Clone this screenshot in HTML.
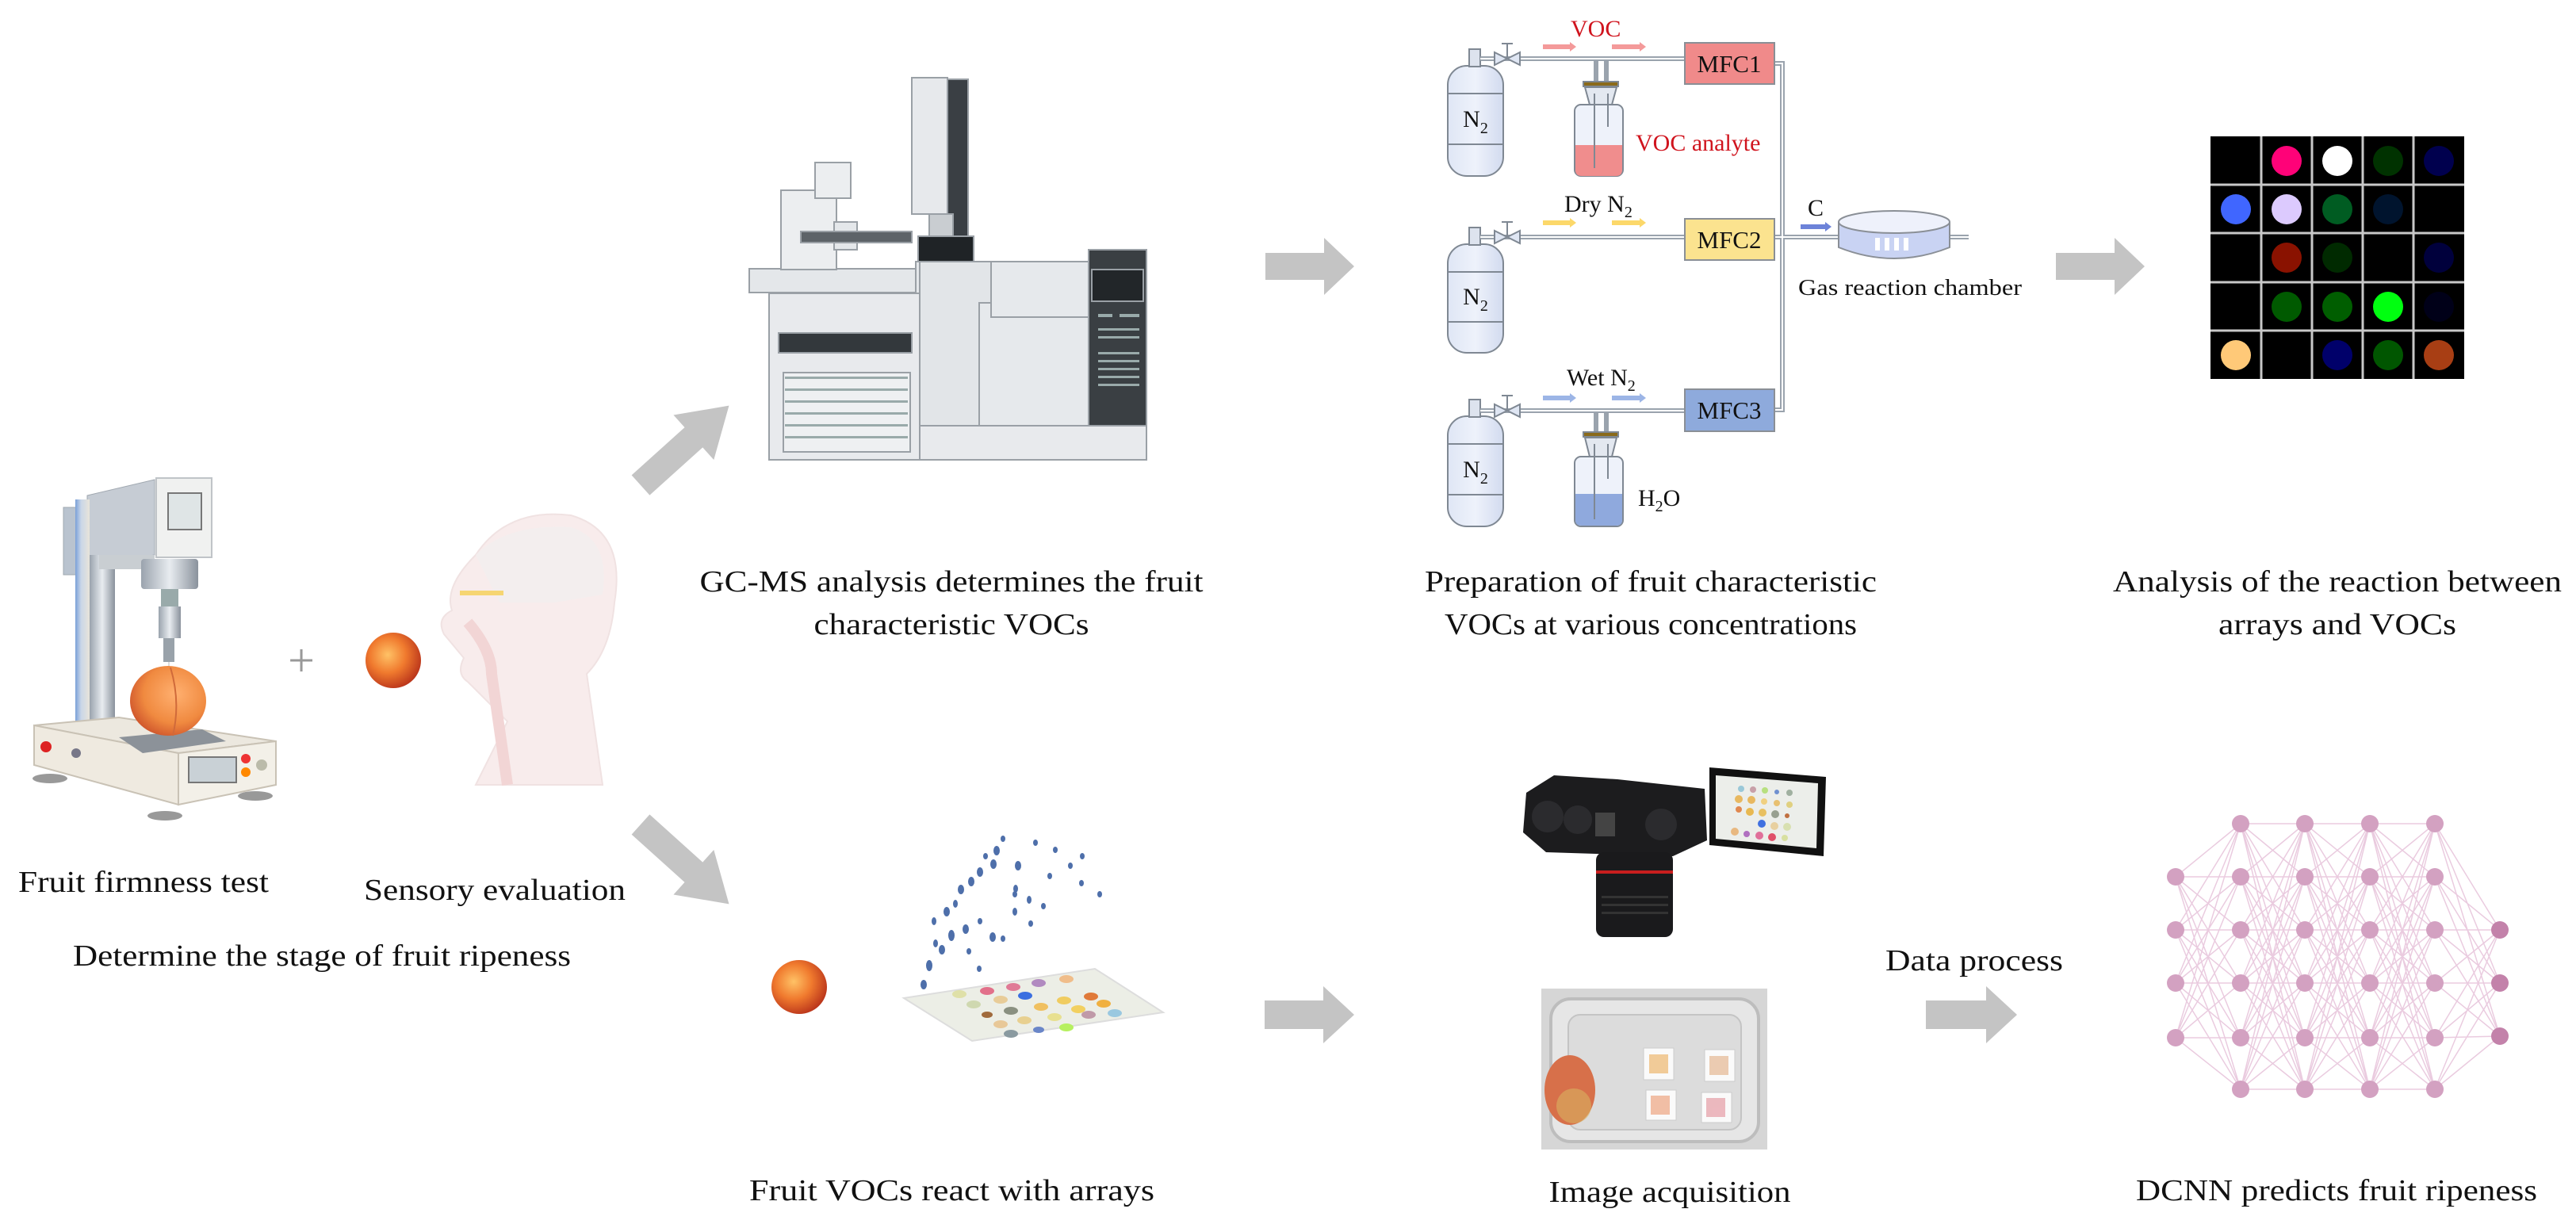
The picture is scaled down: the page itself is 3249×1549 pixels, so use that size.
<!DOCTYPE html>
<html><head><meta charset="utf-8"><style>
html,body{margin:0;padding:0;background:#fff}
svg{display:block}
text{font-family:"Liberation Serif",serif;fill:#111}
</style></head><body>
<svg width="3249" height="1549" viewBox="0 0 3249 1549" xmlns="http://www.w3.org/2000/svg" font-family="Liberation Serif, serif">
<defs>
<radialGradient id="peach" cx="40%" cy="40%" r="65%"><stop offset="0" stop-color="#ffc266"/><stop offset=".5" stop-color="#f07a2e"/><stop offset="1" stop-color="#b8321a"/></radialGradient>
<radialGradient id="peach2" cx="60%" cy="40%" r="70%"><stop offset="0" stop-color="#ffb070"/><stop offset=".6" stop-color="#f08a40"/><stop offset="1" stop-color="#c84a28"/></radialGradient>
<linearGradient id="tank" x1="0" x2="1"><stop offset="0" stop-color="#dfe6f5"/><stop offset=".5" stop-color="#eef2fb"/><stop offset="1" stop-color="#d2dbef"/></linearGradient>
<linearGradient id="metal" x1="0" x2="1"><stop offset="0" stop-color="#9aa3ad"/><stop offset=".5" stop-color="#e8ecf0"/><stop offset="1" stop-color="#8a929c"/></linearGradient>
<linearGradient id="col" x1="0" x2="1"><stop offset="0" stop-color="#7aa0d8"/><stop offset=".4" stop-color="#c9d6e8"/><stop offset="1" stop-color="#e8e4da"/></linearGradient>
</defs>

<!-- ===== Firmness tester ===== -->
<g>
<rect x="80" y="640" width="60" height="85" fill="#b9c3cf" stroke="#a0a8b0" stroke-width="1"/>
<path d="M110 625 L195 605 L195 700 L110 712 Z" fill="#c6ccd4" stroke="#a0a8b0" stroke-width="1"/>
<rect x="197" y="603" width="70" height="100" fill="#f0f1f0" stroke="#c0c4c8" stroke-width="2"/>
<rect x="212" y="622" width="42" height="46" fill="#dfe5e6" stroke="#777" stroke-width="2"/>
<rect x="95" y="630" width="18" height="345" fill="url(#col)"/>
<rect x="113" y="700" width="32" height="270" fill="url(#metal)"/>
<rect x="125" y="700" width="70" height="18" fill="#c9ced2"/>
<rect x="178" y="705" width="72" height="38" rx="4" fill="url(#metal)"/>
<rect x="203" y="743" width="22" height="22" fill="#9aa"/>
<rect x="200" y="765" width="28" height="40" fill="url(#metal)"/>
<rect x="206" y="805" width="14" height="30" fill="#99a2aa"/>
<rect x="212" y="835" width="2" height="30" fill="#ddd"/>
<polygon points="43,915 150,905 348,935 225,950" fill="#ece8df" stroke="#c9c2b5" stroke-width="2"/>
<polygon points="43,915 225,950 225,1015 43,965" fill="#efeae0" stroke="#c9c2b5" stroke-width="2"/>
<polygon points="225,950 348,935 348,990 225,1015" fill="#f3f0e8" stroke="#c9c2b5" stroke-width="2"/>
<rect x="238" y="955" width="60" height="32" fill="#c9d1d6" stroke="#777" stroke-width="2"/>
<circle cx="58" cy="942" r="7" fill="#d22"/><circle cx="96" cy="950" r="6" fill="#778"/>
<circle cx="310" cy="957" r="6" fill="#e33"/><circle cx="310" cy="974" r="6" fill="#f80"/><circle cx="330" cy="965" r="7" fill="#bba"/>
<ellipse cx="63" cy="982" rx="22" ry="6" fill="#999"/><ellipse cx="208" cy="1029" rx="22" ry="6" fill="#999"/><ellipse cx="322" cy="1004" rx="22" ry="6" fill="#999"/>
<polygon points="150,930 255,920 285,935 180,950" fill="#8c9299"/>
<ellipse cx="212" cy="884" rx="48" ry="44" fill="url(#peach2)"/>
<path d="M215 842 Q228 885 218 928" stroke="#d06a3a" stroke-width="2" fill="none"/>
</g>
<text x="380" y="853" font-size="60" text-anchor="middle" style="fill:#999">+</text>
<ellipse cx="496" cy="833" rx="35" ry="35" fill="url(#peach)"/>
<!-- head silhouette -->
<g opacity="0.55">
<path d="M600 700 Q640 640 720 650 Q790 670 775 760 Q770 820 740 850 L760 990 L600 990 L640 910 Q610 880 590 860 Q575 850 585 830 L560 800 Q550 780 570 770 Q560 740 600 700 Z" fill="#f3dede" stroke="#e5cccc" stroke-width="2"/>
<path d="M600 700 Q640 660 720 665 Q770 680 760 750 L700 760 L630 760 Z" fill="#ebe1e1"/>
<rect x="580" y="745" width="55" height="6" fill="#f0b400"/>
<path d="M590 785 Q620 820 620 850 L640 990" stroke="#e8b3b3" stroke-width="14" fill="none"/>
</g>

<text x="23" y="1125" font-size="38" textLength="316" lengthAdjust="spacingAndGlyphs">Fruit firmness test</text>
<text x="459" y="1135" font-size="38" textLength="330" lengthAdjust="spacingAndGlyphs">Sensory evaluation</text>
<text x="92" y="1218" font-size="38" textLength="628" lengthAdjust="spacingAndGlyphs">Determine the stage of fruit ripeness</text>

<!-- ===== Arrows ===== -->
<g fill="#c4c4c4">
<polygon transform="translate(808,612) rotate(-42)" points="0,-17 90,-17 90,-38 150,0 90,38 90,17 0,17"/>
<polygon transform="translate(808,1040) rotate(42)" points="0,-17 90,-17 90,-38 150,0 90,38 90,17 0,17"/>
<polygon points="1596,319 1670,319 1670,300 1708,336 1670,372 1670,353 1596,353"/>
<polygon points="2593,319 2667,319 2667,300 2705,336 2667,372 2667,353 2593,353"/>
<polygon points="1595,1262 1669,1262 1669,1244 1708,1280 1669,1316 1669,1298 1595,1298"/>
<polygon points="2429,1262 2505,1262 2505,1244 2544,1280 2505,1316 2505,1298 2429,1298"/>
</g>

<!-- ===== GC-MS ===== -->
<g stroke="#9aa0a6" stroke-width="2">
<rect x="945" y="339" width="210" height="30" fill="#e4e7ea"/>
<rect x="985" y="240" width="70" height="100" fill="#eceef0"/>
<rect x="1028" y="205" width="45" height="45" fill="#eceef0"/>
<rect x="1052" y="280" width="29" height="35" fill="#e4e7ea"/>
<rect x="1010" y="292" width="140" height="14" fill="#5d6368"/>
<rect x="1150" y="98" width="45" height="172" fill="#e7e9ec"/>
<rect x="1195" y="100" width="26" height="200" fill="#3a3f44"/>
<rect x="1172" y="270" width="30" height="50" fill="#c9cdd1"/>
<rect x="1158" y="298" width="70" height="35" fill="#1f2326"/>
<rect x="1155" y="330" width="80" height="40" fill="#e4e7ea"/>
<rect x="970" y="370" width="190" height="210" fill="#e8eaed"/>
<rect x="982" y="420" width="168" height="25" fill="#33383c"/>
<rect x="988" y="470" width="160" height="100" fill="#eef0f2"/>
<rect x="1160" y="330" width="90" height="250" fill="#e2e5e8"/>
<rect x="1235" y="382" width="140" height="198" fill="#e6e9ec"/>
<rect x="1250" y="330" width="124" height="70" fill="#e6e9ec"/>
<rect x="1373" y="315" width="73" height="222" fill="#3a3f43"/>
<rect x="1377" y="340" width="65" height="40" fill="#222629"/>
<rect x="1160" y="537" width="286" height="43" fill="#e8eaed"/>
</g>
<g fill="#9aa">
<rect x="990" y="475" width="155" height="3"/><rect x="990" y="490" width="155" height="3"/><rect x="990" y="505" width="155" height="3"/><rect x="990" y="520" width="155" height="3"/><rect x="990" y="535" width="155" height="3"/><rect x="990" y="550" width="155" height="3"/>
<rect x="1385" y="396" width="18" height="4"/><rect x="1412" y="396" width="25" height="4"/>
<rect x="1385" y="414" width="52" height="3"/><rect x="1385" y="424" width="52" height="3"/>
<rect x="1385" y="444" width="52" height="3"/><rect x="1385" y="454" width="52" height="3"/><rect x="1385" y="464" width="52" height="3"/><rect x="1385" y="474" width="52" height="3"/><rect x="1385" y="484" width="52" height="3"/>
</g>
<text x="1200" y="746" font-size="38" text-anchor="middle" textLength="635" lengthAdjust="spacingAndGlyphs">GC-MS analysis determines the fruit</text>
<text x="1200" y="800" font-size="38" text-anchor="middle" textLength="347" lengthAdjust="spacingAndGlyphs">characteristic VOCs</text>

<!-- ===== Gas setup ===== -->
<g stroke="#7f8893" stroke-width="2">
<rect x="1826" y="83" width="70" height="139" rx="24" fill="url(#tank)"/>
<line x1="1826" y1="118" x2="1896" y2="118"/><line x1="1826" y1="182" x2="1896" y2="182"/>
<rect x="1826" y="308" width="70" height="137" rx="24" fill="url(#tank)"/>
<line x1="1826" y1="343" x2="1896" y2="343"/><line x1="1826" y1="406" x2="1896" y2="406"/>
<rect x="1826" y="525" width="70" height="139" rx="24" fill="url(#tank)"/>
<line x1="1826" y1="560" x2="1896" y2="560"/><line x1="1826" y1="624" x2="1896" y2="624"/>
<rect x="1853" y="62" width="14" height="22" fill="#dde3ee"/><rect x="1853" y="287" width="14" height="22" fill="#dde3ee"/><rect x="1853" y="504" width="14" height="22" fill="#dde3ee"/>
</g>
<g font-size="30" text-anchor="middle">
<text x="1861" y="160">N<tspan font-size="20" dy="8">2</tspan></text>
<text x="1861" y="384">N<tspan font-size="20" dy="8">2</tspan></text>
<text x="1861" y="602">N<tspan font-size="20" dy="8">2</tspan></text>
</g>
<g fill="none" stroke="#9aa3ad" stroke-width="6">
<path d="M1867 74 H2125"/><path d="M1867 299 H2125"/><path d="M1867 518 H2125"/>
<path d="M2013 74 V110"/><path d="M2026 74 V110"/>
<path d="M2013 518 V550"/><path d="M2026 518 V550"/>
<path d="M2238 80 H2248 V517 H2238"/><path d="M2238 299 H2483"/>
</g>
<g fill="none" stroke="#fff" stroke-width="2">
<path d="M1867 74 H2125"/><path d="M1867 299 H2125"/><path d="M1867 518 H2125"/><path d="M2238 80 H2248 V517 H2238"/><path d="M2238 299 H2483"/>
</g>
<g fill="#dfe6f3" stroke="#7f8893" stroke-width="2">
<polygon points="1885,66 1901,74 1885,82"/><polygon points="1917,66 1901,74 1917,82"/><line x1="1901" y1="74" x2="1901" y2="55"/><line x1="1894" y1="55" x2="1908" y2="55"/>
<polygon points="1885,291 1901,299 1885,307"/><polygon points="1917,291 1901,299 1917,307"/><line x1="1901" y1="299" x2="1901" y2="280"/><line x1="1894" y1="280" x2="1908" y2="280"/>
<polygon points="1885,510 1901,518 1885,526"/><polygon points="1917,510 1901,518 1917,526"/><line x1="1901" y1="518" x2="1901" y2="499"/><line x1="1894" y1="499" x2="1908" y2="499"/>
</g>
<g stroke="#7f8893" stroke-width="2">
<rect x="1997" y="103" width="44" height="6" fill="#8a6a1a"/>
<path d="M1999 110 H2039 L2033 132 H2005 Z" fill="#e3e8f0"/>
<rect x="1986" y="132" width="61" height="90" rx="8" fill="#eef2fa"/>
<path d="M1987 183 H2046 V214 Q2046 222 2038 222 H1995 Q1987 222 1987 214 Z" fill="#f08d8d" stroke="none"/>
<line x1="2011" y1="118" x2="2011" y2="212"/><line x1="2028" y1="118" x2="2028" y2="160"/>
<rect x="1997" y="545" width="44" height="6" fill="#8a6a1a"/>
<path d="M1999 552 H2039 L2033 576 H2005 Z" fill="#e3e8f0"/>
<rect x="1986" y="576" width="61" height="88" rx="8" fill="#eef2fa"/>
<path d="M1987 623 H2046 V656 Q2046 663 2038 663 H1995 Q1987 663 1987 656 Z" fill="#8fa9dd" stroke="none"/>
<line x1="2011" y1="560" x2="2011" y2="655"/><line x1="2028" y1="560" x2="2028" y2="604"/>
</g>
<g stroke="#8a8f96" stroke-width="2">
<rect x="2125" y="54" width="113" height="52" fill="#f08a8a"/>
<rect x="2125" y="276" width="113" height="52" fill="#fbe38f"/>
<rect x="2125" y="491" width="113" height="53" fill="#8eaadc"/>
</g>
<g font-size="31" text-anchor="middle">
<text x="2181" y="91">MFC1</text><text x="2181" y="313">MFC2</text><text x="2181" y="528">MFC3</text>
</g>
<g stroke-width="6">
<path d="M1946 59 H1980" stroke="#f49a9a"/><path d="M2033 59 H2068" stroke="#f49a9a"/>
<path d="M1946 281 H1980" stroke="#fcd86a"/><path d="M2033 281 H2068" stroke="#fcd86a"/>
<path d="M1946 502 H1980" stroke="#9cb5e6"/><path d="M2033 502 H2068" stroke="#9cb5e6"/>
<path d="M2271 286 H2302" stroke="#6d83d9"/>
</g>
<g>
<polygon points="1980,53 1988,59 1980,65" fill="#f49a9a"/><polygon points="2068,53 2076,59 2068,65" fill="#f49a9a"/>
<polygon points="1980,275 1988,281 1980,287" fill="#fcd86a"/><polygon points="2068,275 2076,281 2068,287" fill="#fcd86a"/>
<polygon points="1980,496 1988,502 1980,508" fill="#9cb5e6"/><polygon points="2068,496 2076,502 2068,508" fill="#9cb5e6"/>
<polygon points="2302,280 2310,286 2302,292" fill="#6d83d9"/>
</g>
<path d="M2319 280 V312 Q2389 340 2459 312 V280" fill="#c9d3f3" stroke="#8a8f96" stroke-width="2"/>
<ellipse cx="2389" cy="280" rx="70" ry="14" fill="#eef1fb" stroke="#8a8f96" stroke-width="2"/>
<g fill="#fff"><rect x="2365" y="300" width="6" height="16"/><rect x="2377" y="300" width="6" height="16"/><rect x="2389" y="300" width="6" height="16"/><rect x="2401" y="300" width="6" height="16"/></g>
<g font-size="30">
<text x="1981" y="46" style="fill:#d0141e">VOC</text>
<text x="2063" y="190" style="fill:#d0141e">VOC analyte</text>
<text x="1973" y="267">Dry N<tspan font-size="20" dy="7">2</tspan></text>
<text x="1976" y="486">Wet N<tspan font-size="20" dy="7">2</tspan></text>
<text x="2066" y="638">H<tspan font-size="20" dy="7">2</tspan><tspan dy="-7">O</tspan></text>
<text x="2280" y="272">C</text>
<text x="2268" y="372" font-size="28" textLength="282" lengthAdjust="spacingAndGlyphs">Gas reaction chamber</text>
</g>
<text x="2082" y="746" font-size="38" text-anchor="middle" textLength="570" lengthAdjust="spacingAndGlyphs">Preparation of fruit characteristic</text>
<text x="2082" y="800" font-size="38" text-anchor="middle" textLength="520" lengthAdjust="spacingAndGlyphs">VOCs at various concentrations</text>

<!-- ===== Color array grid ===== -->
<rect x="2788" y="172" width="320" height="306" fill="#000"/>
<g stroke="#c8c8c8" stroke-width="3">
<line x1="2852" y1="172" x2="2852" y2="478"/><line x1="2916" y1="172" x2="2916" y2="478"/><line x1="2980" y1="172" x2="2980" y2="478"/><line x1="3044" y1="172" x2="3044" y2="478"/>
<line x1="2788" y1="233" x2="3108" y2="233"/><line x1="2788" y1="294" x2="3108" y2="294"/><line x1="2788" y1="356" x2="3108" y2="356"/><line x1="2788" y1="417" x2="3108" y2="417"/>
</g>
<g>
<circle cx="2884" cy="203" r="19" fill="#ff0278"/><circle cx="2948" cy="203" r="19" fill="#fff"/><circle cx="3012" cy="203" r="19" fill="#003200"/><circle cx="3076" cy="203" r="19" fill="#00004e"/>
<circle cx="2820" cy="264" r="19" fill="#4066ff"/><circle cx="2884" cy="264" r="19" fill="#dccafe"/><circle cx="2948" cy="264" r="19" fill="#005c22"/><circle cx="3012" cy="264" r="19" fill="#00142e"/>
<circle cx="2884" cy="325" r="19" fill="#8a1200"/><circle cx="2948" cy="325" r="19" fill="#002a00"/><circle cx="3076" cy="325" r="19" fill="#00003c"/>
<circle cx="2884" cy="387" r="19" fill="#005a00"/><circle cx="2948" cy="387" r="19" fill="#005e00"/><circle cx="3012" cy="387" r="19" fill="#00ff10"/><circle cx="3076" cy="387" r="19" fill="#000018"/>
<circle cx="2820" cy="448" r="19" fill="#ffc978"/><circle cx="2948" cy="448" r="19" fill="#00006a"/><circle cx="3012" cy="448" r="19" fill="#005600"/><circle cx="3076" cy="448" r="19" fill="#a83e14"/>
</g>
<text x="2948" y="746" font-size="38" text-anchor="middle" textLength="566" lengthAdjust="spacingAndGlyphs">Analysis of the reaction between</text>
<text x="2948" y="800" font-size="38" text-anchor="middle" textLength="300" lengthAdjust="spacingAndGlyphs">arrays and VOCs</text>

<!-- ===== Fruit VOCs react ===== -->
<ellipse cx="1008" cy="1245" rx="35" ry="34" fill="url(#peach)"/>
<polygon points="1140,1259 1381,1222 1467,1277 1226,1313" fill="#eceee6" stroke="#ddd" stroke-width="2"/>
<g>
<ellipse cx="1210" cy="1254" rx="9" ry="5" fill="#dfe0a8"/><ellipse cx="1245" cy="1250" rx="9" ry="5" fill="#e2708a"/><ellipse cx="1278" cy="1245" rx="9" ry="5" fill="#e07a96"/><ellipse cx="1310" cy="1240" rx="9" ry="5" fill="#b18ac0"/><ellipse cx="1345" cy="1235" rx="9" ry="5" fill="#f0bd8a"/>
<ellipse cx="1228" cy="1267" rx="9" ry="5" fill="#cfd8b0"/><ellipse cx="1262" cy="1261" rx="9" ry="5" fill="#e8cc98"/><ellipse cx="1293" cy="1256" rx="9" ry="5" fill="#3b6fe0"/><ellipse cx="1342" cy="1262" rx="9" ry="5" fill="#f0cc60"/><ellipse cx="1376" cy="1257" rx="9" ry="5" fill="#e07a3a"/>
<ellipse cx="1245" cy="1280" rx="7" ry="4" fill="#a06a3c"/><ellipse cx="1275" cy="1275" rx="9" ry="5" fill="#8a9080"/><ellipse cx="1313" cy="1270" rx="9" ry="5" fill="#f0c060"/><ellipse cx="1360" cy="1273" rx="9" ry="5" fill="#f2d060"/><ellipse cx="1392" cy="1266" rx="9" ry="5" fill="#f0b040"/>
<ellipse cx="1262" cy="1292" rx="9" ry="5" fill="#e8c898"/><ellipse cx="1292" cy="1287" rx="9" ry="5" fill="#e8d090"/><ellipse cx="1330" cy="1283" rx="9" ry="5" fill="#e8e090"/><ellipse cx="1373" cy="1280" rx="9" ry="5" fill="#c09aa8"/><ellipse cx="1406" cy="1278" rx="9" ry="5" fill="#9ac8e0"/>
<ellipse cx="1275" cy="1304" rx="9" ry="5" fill="#8a9aa0"/><ellipse cx="1310" cy="1299" rx="7" ry="4" fill="#6a86c8"/><ellipse cx="1345" cy="1296" rx="9" ry="5" fill="#b6f060"/>
</g>
<g fill="#4e6faa">
<ellipse cx="1165" cy="1242" rx="4" ry="6"/><ellipse cx="1172" cy="1218" rx="4" ry="7"/><ellipse cx="1188" cy="1198" rx="4" ry="6"/><ellipse cx="1180" cy="1190" rx="3" ry="5"/><ellipse cx="1200" cy="1180" rx="4" ry="7"/><ellipse cx="1218" cy="1172" rx="4" ry="6"/>
<ellipse cx="1178" cy="1162" rx="3" ry="5"/><ellipse cx="1194" cy="1150" rx="4" ry="6"/><ellipse cx="1205" cy="1140" rx="3" ry="5"/><ellipse cx="1212" cy="1122" rx="4" ry="6"/><ellipse cx="1225" cy="1112" rx="4" ry="6"/>
<ellipse cx="1236" cy="1100" rx="4" ry="6"/><ellipse cx="1253" cy="1090" rx="4" ry="6"/><ellipse cx="1257" cy="1073" rx="4" ry="6"/><ellipse cx="1284" cy="1092" rx="4" ry="6"/><ellipse cx="1281" cy="1121" rx="3" ry="5"/>
<ellipse cx="1252" cy="1182" rx="4" ry="6"/><ellipse cx="1280" cy="1150" rx="3" ry="5"/><ellipse cx="1298" cy="1135" rx="3" ry="5"/><ellipse cx="1316" cy="1143" rx="3" ry="4"/><ellipse cx="1324" cy="1105" rx="3" ry="4"/>
<ellipse cx="1331" cy="1072" rx="3" ry="4"/><ellipse cx="1350" cy="1092" rx="3" ry="4"/><ellipse cx="1364" cy="1114" rx="3" ry="4"/><ellipse cx="1387" cy="1128" rx="3" ry="4"/><ellipse cx="1365" cy="1080" rx="3" ry="4"/>
<ellipse cx="1265" cy="1184" rx="3" ry="4"/><ellipse cx="1236" cy="1162" rx="3" ry="4"/><ellipse cx="1300" cy="1165" rx="3" ry="4"/><ellipse cx="1222" cy="1200" rx="3" ry="4"/><ellipse cx="1235" cy="1222" rx="3" ry="4"/>
<ellipse cx="1265" cy="1058" rx="3" ry="4"/><ellipse cx="1306" cy="1063" rx="3" ry="4"/><ellipse cx="1243" cy="1080" rx="3" ry="4"/><ellipse cx="1280" cy="1128" rx="3" ry="4"/>
</g>
<text x="945" y="1514" font-size="38" textLength="511" lengthAdjust="spacingAndGlyphs">Fruit  VOCs react with arrays</text>

<!-- ===== Camera ===== -->
<g>
<path d="M1925 1000 L1960 978 L2040 983 L2150 995 L2153 1060 L2110 1080 L1950 1075 L1921 1050 Z" fill="#1c1c1e"/>
<circle cx="1952" cy="1030" r="20" fill="#2b2b2e"/><circle cx="1990" cy="1034" r="18" fill="#2b2b2e"/><circle cx="2095" cy="1040" r="20" fill="#2b2b2e"/>
<rect x="2012" y="1025" width="25" height="30" fill="#444"/>
<rect x="2013" y="1075" width="97" height="107" rx="10" fill="#1a1a1c"/>
<rect x="2013" y="1098" width="97" height="4" fill="#c81e1e"/>
<g fill="#333"><rect x="2020" y="1130" width="84" height="3"/><rect x="2020" y="1140" width="84" height="3"/><rect x="2020" y="1150" width="84" height="3"/></g>
<polygon points="2156,968 2303,980 2300,1080 2156,1066" fill="#111"/>
<polygon points="2164,978 2293,988 2291,1070 2164,1058" fill="#eceeea"/>
<g>
<circle cx="2196" cy="995" r="4" fill="#9ac8d8"/><circle cx="2211" cy="996" r="4" fill="#c8a0a8"/><circle cx="2226" cy="997" r="4" fill="#b8e080"/><circle cx="2241" cy="999" r="3" fill="#7090d0"/><circle cx="2257" cy="1000" r="4" fill="#a0b0a0"/>
<circle cx="2193" cy="1008" r="5" fill="#e8b860"/><circle cx="2209" cy="1009" r="5" fill="#e8b860"/><circle cx="2225" cy="1011" r="4" fill="#f0d080"/><circle cx="2241" cy="1013" r="4" fill="#e8c070"/><circle cx="2257" cy="1015" r="4" fill="#e0d080"/>
<circle cx="2193" cy="1021" r="4" fill="#e08850"/><circle cx="2207" cy="1024" r="5" fill="#e8b850"/><circle cx="2223" cy="1025" r="5" fill="#e8c060"/><circle cx="2239" cy="1027" r="5" fill="#98a090"/><circle cx="2254" cy="1029" r="3" fill="#c07040"/>
<circle cx="2222" cy="1039" r="5" fill="#4070e0"/><circle cx="2238" cy="1042" r="5" fill="#e8d0a0"/><circle cx="2254" cy="1043" r="5" fill="#d8e0b0"/>
<circle cx="2188" cy="1049" r="5" fill="#e8b880"/><circle cx="2203" cy="1052" r="4" fill="#b070c0"/><circle cx="2219" cy="1054" r="5" fill="#e0709a"/><circle cx="2235" cy="1056" r="5" fill="#e0506a"/><circle cx="2251" cy="1057" r="4" fill="#d8e0a0"/>
</g>
</g>
<rect x="1944" y="1247" width="285" height="203" fill="#d6d6d6"/>
<rect x="1956" y="1260" width="262" height="180" rx="25" fill="#e6e6e6" stroke="#bdbdbd" stroke-width="4"/>
<rect x="1978" y="1280" width="218" height="145" rx="15" fill="#dcdcdc" stroke="#c4c4c4" stroke-width="2"/>
<ellipse cx="1980" cy="1375" rx="32" ry="44" fill="#d7704a"/>
<ellipse cx="1985" cy="1395" rx="22" ry="22" fill="#d8b060" opacity=".6"/>
<g fill="#fafafa" stroke="#ccc" stroke-width="1">
<rect x="2073" y="1322" width="38" height="40"/><rect x="2150" y="1324" width="38" height="40"/>
<rect x="2076" y="1375" width="38" height="38"/><rect x="2146" y="1378" width="38" height="38"/>
</g>
<g opacity=".8"><rect x="2080" y="1330" width="24" height="24" fill="#f0c080"/><rect x="2156" y="1332" width="24" height="24" fill="#e8c0a0"/><rect x="2082" y="1382" width="24" height="24" fill="#f0b090"/><rect x="2152" y="1385" width="24" height="24" fill="#e8a8b0"/></g>
<text x="2106" y="1516" font-size="38" text-anchor="middle" textLength="305" lengthAdjust="spacingAndGlyphs">Image acquisition</text>
<text x="2378" y="1224" font-size="38" textLength="224" lengthAdjust="spacingAndGlyphs">Data process</text>

<!-- ===== Neural network ===== -->
<g stroke="#d9a2c6" stroke-width="1.5" opacity="0.55">
<path d="M2744 1106L2826 1039M2744 1106L2826 1106M2744 1106L2826 1173M2744 1106L2826 1240M2744 1106L2826 1309M2744 1106L2826 1374M2744 1173L2826 1039M2744 1173L2826 1106M2744 1173L2826 1173M2744 1173L2826 1240M2744 1173L2826 1309M2744 1173L2826 1374M2744 1240L2826 1039M2744 1240L2826 1106M2744 1240L2826 1173M2744 1240L2826 1240M2744 1240L2826 1309M2744 1240L2826 1374M2744 1309L2826 1039M2744 1309L2826 1106M2744 1309L2826 1173M2744 1309L2826 1240M2744 1309L2826 1309M2744 1309L2826 1374"/>
<path d="M2826 1039L2907 1039M2826 1039L2907 1106M2826 1039L2907 1173M2826 1039L2907 1240M2826 1039L2907 1309M2826 1039L2907 1374M2826 1106L2907 1039M2826 1106L2907 1106M2826 1106L2907 1173M2826 1106L2907 1240M2826 1106L2907 1309M2826 1106L2907 1374M2826 1173L2907 1039M2826 1173L2907 1106M2826 1173L2907 1173M2826 1173L2907 1240M2826 1173L2907 1309M2826 1173L2907 1374M2826 1240L2907 1039M2826 1240L2907 1106M2826 1240L2907 1173M2826 1240L2907 1240M2826 1240L2907 1309M2826 1240L2907 1374M2826 1309L2907 1039M2826 1309L2907 1106M2826 1309L2907 1173M2826 1309L2907 1240M2826 1309L2907 1309M2826 1309L2907 1374M2826 1374L2907 1039M2826 1374L2907 1106M2826 1374L2907 1173M2826 1374L2907 1240M2826 1374L2907 1309M2826 1374L2907 1374"/>
<path d="M2907 1039L2989 1039M2907 1039L2989 1106M2907 1039L2989 1173M2907 1039L2989 1240M2907 1039L2989 1309M2907 1039L2989 1374M2907 1106L2989 1039M2907 1106L2989 1106M2907 1106L2989 1173M2907 1106L2989 1240M2907 1106L2989 1309M2907 1106L2989 1374M2907 1173L2989 1039M2907 1173L2989 1106M2907 1173L2989 1173M2907 1173L2989 1240M2907 1173L2989 1309M2907 1173L2989 1374M2907 1240L2989 1039M2907 1240L2989 1106M2907 1240L2989 1173M2907 1240L2989 1240M2907 1240L2989 1309M2907 1240L2989 1374M2907 1309L2989 1039M2907 1309L2989 1106M2907 1309L2989 1173M2907 1309L2989 1240M2907 1309L2989 1309M2907 1309L2989 1374M2907 1374L2989 1039M2907 1374L2989 1106M2907 1374L2989 1173M2907 1374L2989 1240M2907 1374L2989 1309M2907 1374L2989 1374"/>
<path d="M2989 1039L3071 1039M2989 1039L3071 1106M2989 1039L3071 1173M2989 1039L3071 1240M2989 1039L3071 1309M2989 1039L3071 1374M2989 1106L3071 1039M2989 1106L3071 1106M2989 1106L3071 1173M2989 1106L3071 1240M2989 1106L3071 1309M2989 1106L3071 1374M2989 1173L3071 1039M2989 1173L3071 1106M2989 1173L3071 1173M2989 1173L3071 1240M2989 1173L3071 1309M2989 1173L3071 1374M2989 1240L3071 1039M2989 1240L3071 1106M2989 1240L3071 1173M2989 1240L3071 1240M2989 1240L3071 1309M2989 1240L3071 1374M2989 1309L3071 1039M2989 1309L3071 1106M2989 1309L3071 1173M2989 1309L3071 1240M2989 1309L3071 1309M2989 1309L3071 1374M2989 1374L3071 1039M2989 1374L3071 1106M2989 1374L3071 1173M2989 1374L3071 1240M2989 1374L3071 1309M2989 1374L3071 1374"/>
<path d="M3071 1039L3153 1173M3071 1039L3153 1240M3071 1039L3153 1307M3071 1106L3153 1173M3071 1106L3153 1240M3071 1106L3153 1307M3071 1173L3153 1173M3071 1173L3153 1240M3071 1173L3153 1307M3071 1240L3153 1173M3071 1240L3153 1240M3071 1240L3153 1307M3071 1309L3153 1173M3071 1309L3153 1240M3071 1309L3153 1307M3071 1374L3153 1173M3071 1374L3153 1240M3071 1374L3153 1307"/>
</g>
<g fill="#d3a1c1">
<circle cx="2744" cy="1106" r="11"/><circle cx="2744" cy="1173" r="11"/><circle cx="2744" cy="1240" r="11"/><circle cx="2744" cy="1309" r="11"/>
<circle cx="2826" cy="1039" r="11"/><circle cx="2826" cy="1106" r="11"/><circle cx="2826" cy="1173" r="11"/><circle cx="2826" cy="1240" r="11"/><circle cx="2826" cy="1309" r="11"/><circle cx="2826" cy="1374" r="11"/>
<circle cx="2907" cy="1039" r="11"/><circle cx="2907" cy="1106" r="11"/><circle cx="2907" cy="1173" r="11"/><circle cx="2907" cy="1240" r="11"/><circle cx="2907" cy="1309" r="11"/><circle cx="2907" cy="1374" r="11"/>
<circle cx="2989" cy="1039" r="11"/><circle cx="2989" cy="1106" r="11"/><circle cx="2989" cy="1173" r="11"/><circle cx="2989" cy="1240" r="11"/><circle cx="2989" cy="1309" r="11"/><circle cx="2989" cy="1374" r="11"/>
<circle cx="3071" cy="1039" r="11"/><circle cx="3071" cy="1106" r="11"/><circle cx="3071" cy="1173" r="11"/><circle cx="3071" cy="1240" r="11"/><circle cx="3071" cy="1309" r="11"/><circle cx="3071" cy="1374" r="11"/>
</g>
<g fill="#c382aa"><circle cx="3153" cy="1173" r="11"/><circle cx="3153" cy="1240" r="11"/><circle cx="3153" cy="1307" r="11"/></g>
<text x="2947" y="1514" font-size="38" text-anchor="middle" textLength="506" lengthAdjust="spacingAndGlyphs">DCNN predicts fruit ripeness</text>
</svg>
</body></html>
